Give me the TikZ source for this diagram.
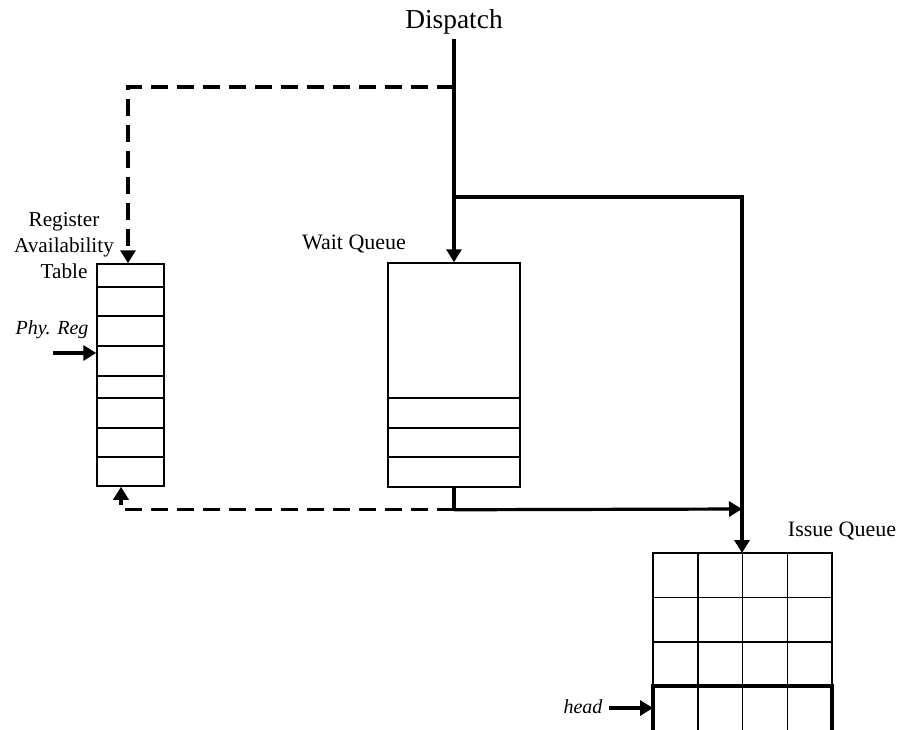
\documentclass[tikz,border=0pt]{standalone}
\usepackage{fontspec}
\setmainfont{Liberation Serif}
\usetikzlibrary{arrows.meta}

\tikzset{
  box/.style={draw, line width=0.75pt, inner sep=0pt},
  conn/.style={line width=1.6pt, -{Triangle[length=6.5pt,width=7.5pt]}},
  dsh/.style={conn, dash pattern=on 8.5pt off 4.5pt},
  lbl/.style={font=\fontsize{11}{13}\selectfont, inner sep=0pt}
}

\begin{document}
\begin{tikzpicture}[x=0.5pt, y=-0.5pt]
    \useasboundingbox (0,0) rectangle (899,729);
    \node (dispatch) [font=\fontsize{13.7}{16}\selectfont, inner sep=0pt] at (454,22) {Dispatch};
    \node (wq) [box, minimum width=66pt, minimum height=112pt] at (454,375) {};
    \node (rat) [box, minimum width=33.5pt, minimum height=111pt] at (130.5,375) {};
    \node (wqlabel) [lbl] at (354,244) {Wait Queue};
    \node (iqlabel) [lbl] at (842,531) {Issue Queue};
    \node (ratlabel) [lbl, font=\fontsize{10.6}{13}\selectfont, align=center] at (64,246) {Register\\Availability\\Table};
    \node (phy) [lbl, font=\fontsize{10}{12}\selectfont\itshape] at (52,330) {Phy. Reg};
    \node (head) [lbl, font=\fontsize{10}{12}\selectfont\itshape] at (583,707) {head};
    \foreach \y in {398,428,457}
      \draw[line width=0.75pt] (wq.west |- 0,\y) -- (wq.east |- 0,\y);
    \foreach \y in {287,316,346,376,398,428,457}
      \draw[line width=0.75pt] (rat.west |- 0,\y) -- (rat.east |- 0,\y);
    \foreach \c in {0,...,3}
      \foreach \r in {0,...,3}
        \draw[line width=0.75pt] (653+\c*44.75,553+\r*44.5) rectangle ++(44.75,44.5);
    \draw[line width=2pt] (653,731) |- (832,686) -- (832,731);
    \coordinate (split1) at (454,87);
    \coordinate (split2) at (454,197);
    \coordinate (iqtop) at (742,553);
    \coordinate (merge) at (742,509);
    \coordinate (headrow) at (653,708);
    \coordinate (headin) at (609,708);
    \coordinate (phyin) at (53,353);
    \draw[conn] ([yshift=-2pt]dispatch.south) -- (wq.north);
    \draw[dsh] (split1) -| ([xshift=-1.25pt]rat.north);
    \draw[conn] (split2) -| (iqtop);
    \draw[line width=1.6pt] (wq.south) -- ++(0,22) coordinate (wqout);
    \draw[conn] (wqout) -- (merge);
    \draw[dsh] (wqout) -| ([xshift=-4.75pt]rat.south);
    \draw[conn] (phyin) -- (rat.west |- phyin);
    \draw[conn] (headin) -- (headrow);
\end{tikzpicture}
\end{document}
